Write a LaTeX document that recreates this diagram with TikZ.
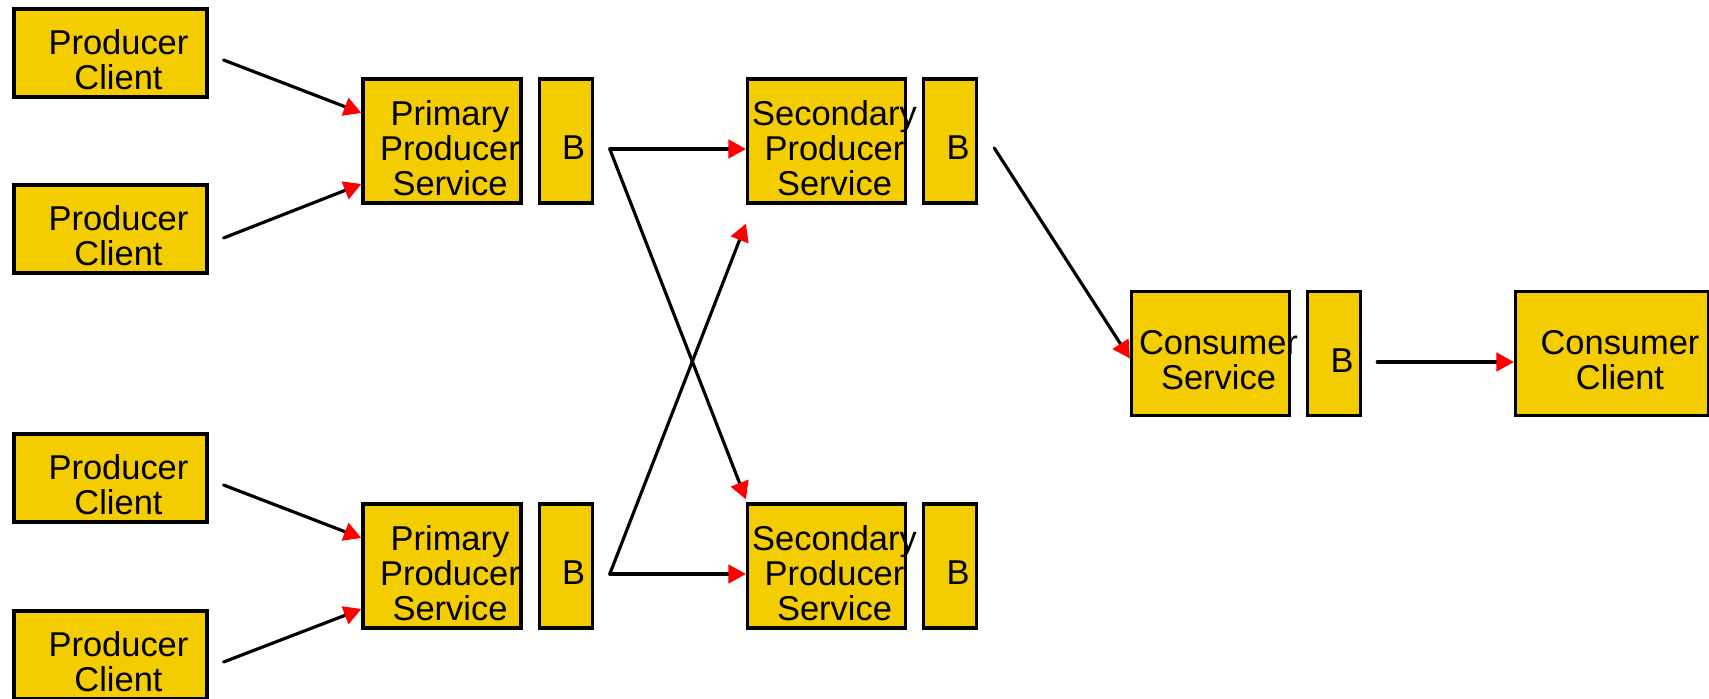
\documentclass[tikz,border=0pt]{standalone}
\usepackage{fontspec}
\setmainfont{Liberation Sans}
\usepackage{tikz}
\usetikzlibrary{arrows.meta,positioning}
\definecolor{boxyellow}{RGB}{243,205,0}
\tikzset{
  txt/.style={align=center, font=\fontsize{19.6}{20}\selectfont,
              xshift=0.16cm, yshift=-0.14cm},
  client/.style={rectangle, draw, line width=1.8pt, fill=boxyellow,
                 minimum width=3.86cm, minimum height=1.76cm},
  svc/.style={rectangle, draw, line width=1.8pt, fill=boxyellow,
              minimum width=3.16cm, minimum height=2.48cm},
  buf/.style={rectangle, draw, line width=1.8pt, fill=boxyellow,
              minimum width=1.06cm, minimum height=2.48cm,
              label={[txt]center:B}},
  arr/.style={-{Triangle[length=3.5mm,width=3.7mm,color=red]},
              line width=1.8pt, line cap=round}
}

\begin{document}
\begin{tikzpicture}
  \useasboundingbox (0,0) rectangle (34.18,-13.98);
  % producer clients
  \foreach \i/\y in {1/-1.06,2/-4.58,3/-9.56,4/-13.1}
    \node[client, label={[txt]center:{Producer\\Client}}] (c\i) at (2.21,\y) {};
  % services, each followed by its B box
  \node[svc, label={[txt]center:{Primary\\Producer\\Service}}] (p1) at (8.84,-2.82) {};
  \node[buf, right=0.3cm of p1] (pb1) {};
  \node[svc, label={[txt]center:{Primary\\Producer\\Service}}] (p2) at (8.84,-11.32) {};
  \node[buf, right=0.3cm of p2] (pb2) {};
  \node[svc, label={[txt]center:{Secondary\\Producer\\Service}}] (s1) at (16.53,-2.82) {};
  \node[buf, right=0.3cm of s1] (sb1) {};
  \node[svc, label={[txt]center:{Secondary\\Producer\\Service}}] (s2) at (16.53,-11.32) {};
  \node[buf, right=0.3cm of s2] (sb2) {};
  \node[svc, label={[txt]center:{Consumer\\Service}}] (cs) at (24.21,-7.07) {};
  \node[buf, right=0.3cm of cs] (csb) {};
  \node[client, minimum height=2.48cm, label={[txt]center:{Consumer\\Client}}] (cc) at (32.24,-7.07) {};
  % clients into the primary services
  \draw[arr] ([xshift=0.3cm,yshift=-0.14cm]c1.east) -- ([yshift=0.56cm]p1.west);
  \draw[arr] ([xshift=0.3cm,yshift=-0.18cm]c2.east) -- ([yshift=-0.86cm]p1.west);
  \draw[arr] ([xshift=0.3cm,yshift=-0.14cm]c3.east) -- ([yshift=0.56cm]p2.west);
  \draw[arr] ([xshift=0.3cm,yshift=-0.14cm]c4.east) -- ([yshift=-0.86cm]p2.west);
  % primaries fan out to both secondaries
  \draw[arr] ([xshift=0.32cm,yshift=-0.16cm]pb1.east) -- ([yshift=-0.16cm]s1.west);
  \draw[arr] ([xshift=0.32cm,yshift=-0.16cm]pb1.east) -- ([yshift=0.06cm]s2.north west);
  \draw[arr] ([xshift=0.32cm,yshift=-0.16cm]pb2.east) -- ([yshift=-0.16cm]s2.west);
  \draw[arr] ([xshift=0.32cm,yshift=-0.16cm]pb2.east) -- ([yshift=-0.38cm]s1.south west);
  % on to the consumer
  \draw[arr] ([xshift=0.32cm,yshift=-0.14cm]sb1.east) -- ([yshift=-0.1cm]cs.west);
  \draw[arr] ([xshift=0.3cm,yshift=-0.17cm]csb.east) -- ([yshift=-0.17cm]cc.west);
\end{tikzpicture}
\end{document}
